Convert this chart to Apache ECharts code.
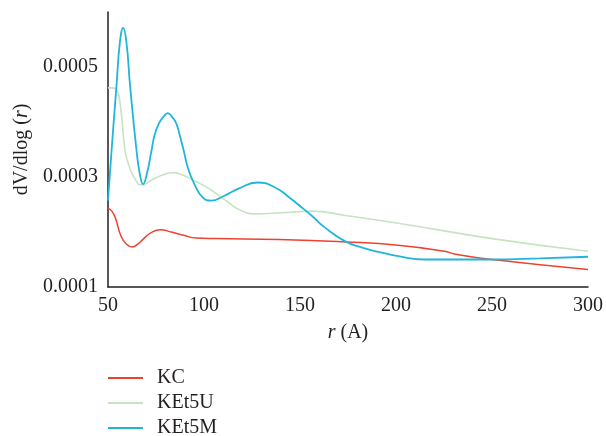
<!DOCTYPE html>
<html>
<head>
<meta charset="utf-8">
<script src="https://cdn.jsdelivr.net/npm/echarts@6/dist/echarts.min.js"></script>
<style>
  html, body { margin: 0; padding: 0; background: #fff; }
  #chart { width: 606px; height: 436px; }
</style>
</head>
<body>
<div id="chart"></div>
<script>
// series names
var seriesNames = ['KC', 'KEt5U', 'KEt5M'];

// KC (red)
var kcR = [50, 52, 54, 56.6, 59.5, 62.6, 65.5, 68.6, 72.5, 77.3, 83, 89.3, 95.9, 106.3, 139, 173.6, 201.1, 225.3, 230.5, 250, 300];
var kcV = [0.000243, 0.000238, 0.000224, 0.000194, 0.000178, 0.0001726, 0.000178, 0.000188, 0.000199, 0.000204, 0.0002, 0.000194, 0.000189, 0.000188, 0.0001865, 0.000182, 0.000176, 0.000165, 0.00016, 0.00015, 0.000132];

// KEt5U (light green)
var uR = [50, 52.5, 54.7, 55.8, 57.1, 58.8, 60.5, 62.3, 64.5, 66.6, 69, 73, 78, 83.8, 88.5, 93.3, 101.1, 105.5, 111.4, 119.2, 127.8, 136, 145.1, 156.3, 173.6, 201.1, 250, 300];
var uV = [0.000462, 0.000462, 0.000458, 0.000445, 0.00041, 0.00035, 0.000325, 0.000308, 0.000294, 0.000286, 0.000287, 0.000295, 0.000303, 0.000308, 0.000304, 0.000296, 0.000282, 0.000272, 0.000257, 0.000239, 0.000233, 0.000234, 0.000236, 0.000238, 0.00023, 0.000216, 0.000188, 0.000165];

// KEt5M (cyan)
var mR = [50, 51.9, 54.5, 56.2, 57.9, 59.6, 61.4, 64.8, 66.6, 68.3, 70.2, 72.6, 74.3, 76.6, 78.8, 81.2, 83.4, 85.5, 87.3, 89.5, 91.6, 95, 99.3, 103.7, 110.6, 118, 127.8, 137, 145.1, 149.4, 156.3, 163, 173.6, 182, 190.8, 201.1, 215, 250, 275, 300];
var mV = [0.000257, 0.00035, 0.00047, 0.000545, 0.000571, 0.000545, 0.00047, 0.00035, 0.000305, 0.000287, 0.000305, 0.000347, 0.000377, 0.000398, 0.000409, 0.000416, 0.000409, 0.000398, 0.000377, 0.000347, 0.000317, 0.000287, 0.000263, 0.000257, 0.000266, 0.000279, 0.00029, 0.000281, 0.000261, 0.000249, 0.000229, 0.000208, 0.000183, 0.000172, 0.000164, 0.000156, 0.00015, 0.00015, 0.000152, 0.000155];

// tick labels shown on the y axis
var yTickLabels = ['0.0001', '0.0003', '0.0005'];

function pairs(xs, ys) {
  var out = [];
  for (var i = 0; i < xs.length; i++) {
    out.push([xs[i], ys[i]]);
  }
  return out;
}

var font = 'Liberation Serif';
var ink = '#231f20';
var colors = ['#ee4230', '#c6e4c1', '#1fb6da'];

var chart = echarts.init(document.getElementById('chart'), null, { renderer: 'canvas' });

var option = {
  animation: false,
  color: colors,
  grid: {
    left: 108,
    right: 15,
    top: 12,
    bottom: 149
  },
  legend: {
    orient: 'vertical',
    left: 108,
    top: 368,
    height: 80,
    padding: 0,
    icon: 'rect',
    itemWidth: 35,
    itemHeight: 2,
    itemGap: 5,
    textStyle: {
      fontFamily: font,
      fontSize: 20,
      color: ink,
      padding: [0, 0, 0, 9]
    },
    data: seriesNames
  },
  xAxis: {
    type: 'value',
    min: 50,
    max: 300,
    interval: 50,
    name: '{i|r} (A)',
    nameLocation: 'middle',
    nameGap: 36,
    nameTextStyle: {
      fontFamily: font,
      fontSize: 20,
      color: ink,
      rich: {
        i: { fontFamily: font, fontSize: 20, fontStyle: 'italic', color: ink }
      }
    },
    axisLine: { show: true, lineStyle: { color: ink, width: 1.5 } },
    axisTick: { show: false },
    splitLine: { show: false },
    axisLabel: {
      margin: 9,
      fontFamily: font,
      fontSize: 20,
      color: ink
    }
  },
  yAxis: {
    type: 'value',
    min: 0.0001,
    max: 0.0006,
    interval: 0.0001,
    name: 'dV/dlog ({i|r})',
    nameLocation: 'middle',
    nameGap: 73,
    nameTextStyle: {
      fontFamily: font,
      fontSize: 20,
      color: ink,
      rich: {
        i: { fontFamily: font, fontSize: 20, fontStyle: 'italic', color: ink }
      }
    },
    axisLine: { show: true, lineStyle: { color: ink, width: 1.5 } },
    axisTick: { show: false },
    splitLine: { show: false },
    axisLabel: {
      margin: 10,
      fontFamily: font,
      fontSize: 20,
      color: ink,
      formatter: function (value) {
        var s = value.toFixed(4);
        return yTickLabels.indexOf(s) >= 0 ? s : '';
      }
    }
  },
  series: [
    {
      name: seriesNames[0],
      type: 'line',
      showSymbol: false,
      smooth: 0.5,
      lineStyle: { width: 1.5 },
      data: pairs(kcR, kcV)
    },
    {
      name: seriesNames[1],
      type: 'line',
      showSymbol: false,
      smooth: 0.5,
      lineStyle: { width: 1.6 },
      data: pairs(uR, uV)
    },
    {
      name: seriesNames[2],
      type: 'line',
      showSymbol: false,
      smooth: 0.5,
      lineStyle: { width: 1.8 },
      data: pairs(mR, mV)
    }
  ]
};

chart.setOption(option);
</script>
</body>
</html>
